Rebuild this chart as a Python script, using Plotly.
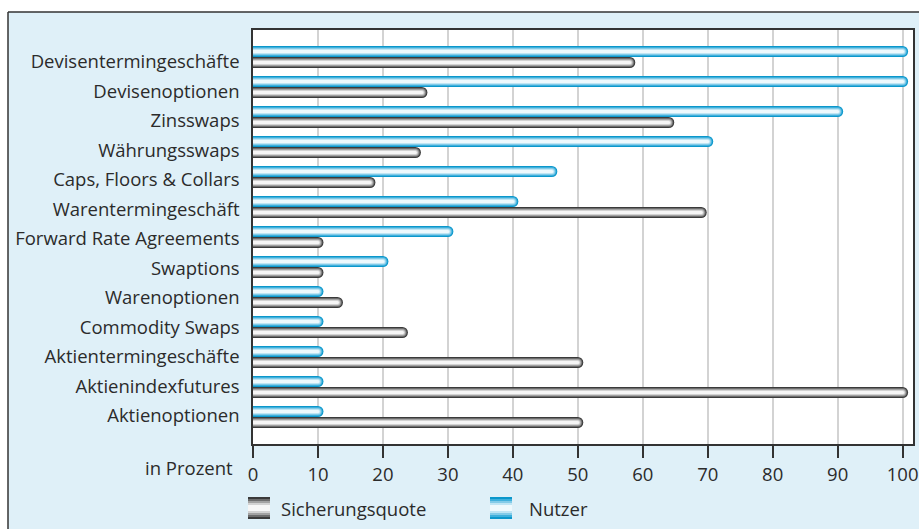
import plotly.graph_objects as go

# Instruments, top to bottom
categories = [
    "Devisentermingeschäfte", "Devisenoptionen", "Zinsswaps", "Währungsswaps",
    "Caps, Floors & Collars", "Warentermingeschäft", "Forward Rate Agreements",
    "Swaptions", "Warenoptionen", "Commodity Swaps", "Aktientermingeschäfte",
    "Aktienindexfutures", "Aktienoptionen",
]
# Share of firms using the instrument (%)
nutzer = [100, 100, 90, 70, 46, 40, 30, 20, 10, 10, 10, 10, 10]
# Hedge ratio (%)
sicherungsquote = [58, 26, 64, 25, 18, 69, 10, 10, 13, 23, 50, 100, 50]
x_ticks = [0, 10, 20, 30, 40, 50, 60, 70, 80, 90, 100]

W, H = 919, 529
BG = "#dff0f8"
TXT = "#2b2b2b"
FONT = "Open Sans"
FS = 18.5

# concentric stroke layers give the cylinder shading (outer -> inner)
BLUE_LAYERS = [(11, "#0b97cb"), (9, "#3fb0dc"), (7, "#82cbe8"), (5, "#bfe5f4"), (3, "#eef9fd")]
GREY_LAYERS = [(11, "#3a3a3a"), (9, "#6d6d6d"), (7, "#a2a2a2"), (5, "#d2d2d2"), (3, "#f6f6f6")]

OFF = 0.1833  # half a bar thickness in category units

fig = go.Figure()


def add_bars(values, offset, layers):
    xs, ys = [], []
    for i, v in enumerate(values):
        xs += [0, v, None]
        ys += [i + offset, i + offset, None]
    for width, color in layers:
        fig.add_trace(go.Scatter(
            x=xs, y=ys, mode="lines+markers",
            line=dict(color=color, width=width),
            marker=dict(color=color, size=width, line=dict(width=0)),
            hoverinfo="skip", showlegend=False,
        ))


add_bars(nutzer, -OFF, BLUE_LAYERS)
add_bars(sicherungsquote, OFF, GREY_LAYERS)

# legend swatches on a helper axis spanning the page in pixel units
LEG_Y = 508
for (x0, x1), layers in [((248, 270), GREY_LAYERS), ((490, 512), BLUE_LAYERS)]:
    for width, color in layers:
        fig.add_trace(go.Scatter(
            x=[x0, x1], y=[LEG_Y, LEG_Y], mode="lines",
            line=dict(color=color, width=width * 2),
            xaxis="x2", yaxis="y2", hoverinfo="skip", showlegend=False,
        ))

px = lambda x: x / W
py = lambda y: 1 - y / H

# category labels sit slightly tighter than the bar pairs
label_pos = [i + (5 - 0.5 * i) / 30 for i in range(len(categories))]

fig.update_layout(
    width=W, height=H,
    margin=dict(l=0, r=0, t=0, b=0, autoexpand=False),
    paper_bgcolor=BG,
    plot_bgcolor="rgba(0,0,0,0)",
    showlegend=False,
    font=dict(family=FONT, size=FS, color=TXT),
    xaxis=dict(
        domain=[px(253), px(913)], range=[0, 101.6], automargin=False,
        tickvals=x_ticks, ticktext=[str(t) for t in x_ticks],
        showgrid=True, gridcolor="#d3d3d3", gridwidth=1.5,
        zeroline=False, showline=True, mirror=True, linecolor="#333", linewidth=1.5,
        ticks="outside", ticklen=12, tickwidth=1.5, tickcolor="#333",
        tickfont=dict(size=FS, color=TXT), ticklabelstandoff=1,
        fixedrange=True,
    ),
    yaxis=dict(
        domain=[py(444), py(30)], range=[12.9, -0.9], automargin=False,
        tickvals=label_pos, ticktext=categories,
        showgrid=False, zeroline=False, showline=True, mirror=True,
        linecolor="#333", linewidth=1.5, ticks="", ticklabelstandoff=8,
        tickfont=dict(size=FS, color=TXT), fixedrange=True,
    ),
    xaxis2=dict(domain=[0, 1], range=[0, W], visible=False, anchor="y2",
                automargin=False, fixedrange=True),
    yaxis2=dict(domain=[0, 1], range=[H, 0], visible=False, anchor="x2",
                automargin=False, fixedrange=True),
    shapes=[
        # white plotting area
        dict(type="rect", xref="x domain", yref="y domain", x0=0, x1=1, y0=0, y1=1,
             fillcolor="white", line=dict(width=0), layer="below"),
        # white margin above and left of the frame
        dict(type="rect", xref="paper", yref="paper", x0=0, x1=1, y0=py(12), y1=1,
             fillcolor="white", line=dict(width=0), layer="below"),
        dict(type="rect", xref="paper", yref="paper", x0=0, x1=px(8), y0=0, y1=1,
             fillcolor="white", line=dict(width=0), layer="below"),
        # frame edges
        dict(type="line", xref="paper", yref="paper", x0=px(8), x1=1.01, y0=py(12), y1=py(12),
             line=dict(color="#333", width=1.5)),
        dict(type="line", xref="paper", yref="paper", x0=px(8), x1=px(8), y0=-0.01, y1=py(12),
             line=dict(color="#333", width=1.5)),
    ],
    annotations=[
        dict(text="in Prozent", xref="paper", yref="paper", x=px(235), y=py(467),
             xanchor="right", yanchor="middle", showarrow=False, font=dict(size=FS, color=TXT)),
        dict(text="Sicherungsquote", xref="paper", yref="paper", x=px(279), y=py(508),
             xanchor="left", yanchor="middle", showarrow=False, font=dict(size=FS, color=TXT)),
        dict(text="Nutzer", xref="paper", yref="paper", x=px(527), y=py(508),
             xanchor="left", yanchor="middle", showarrow=False, font=dict(size=FS, color=TXT)),
    ],
)

fig.write_html("out.html")
